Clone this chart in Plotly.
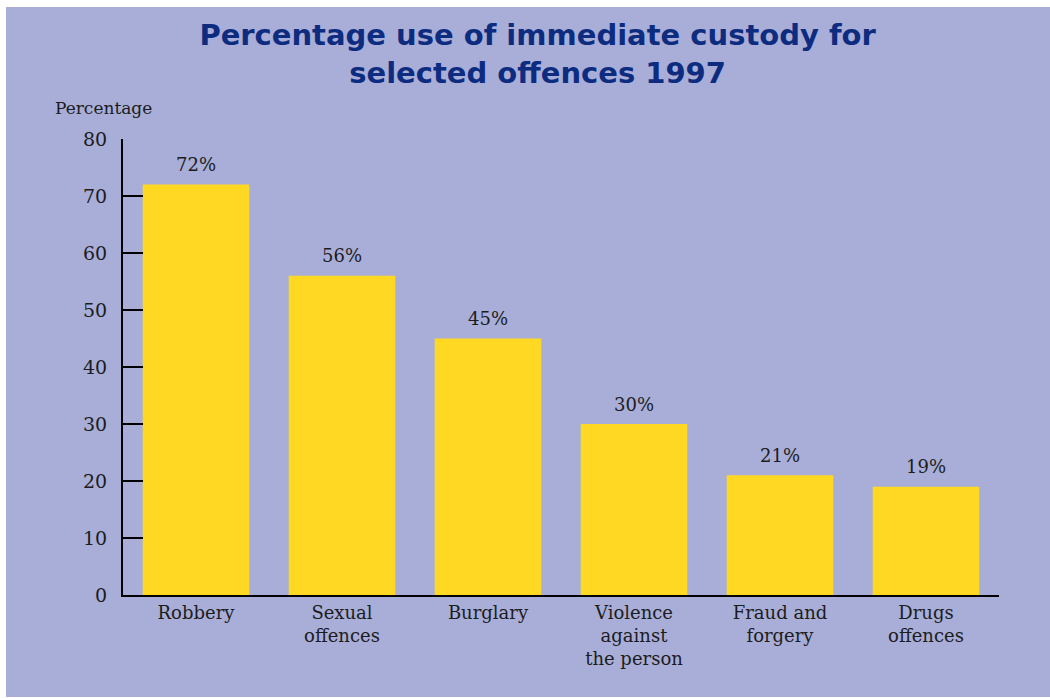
import plotly.graph_objects as go

categories = ["Robbery", "Sexual<br>offences", "Burglary", "Violence<br>against<br>the person",
              "Fraud and<br>forgery", "Drugs<br>offences"]
values = [72, 56, 45, 30, 21, 19]
value_labels = ["72%", "56%", "45%", "30%", "21%", "19%"]
y_ticks = [0, 10, 20, 30, 40, 50, 60, 70, 80]

BG = "#A8AED8"
BAR = "#FFD823"
TXT = "#1c1c1c"
SERIF = "DejaVu Serif, Liberation Serif, serif"

fig = go.Figure()
fig.add_trace(go.Bar(
    x=categories, y=values,
    marker=dict(color=BAR, line=dict(width=0)),
    hoverinfo="skip",
))

annotations = [dict(
    x=c, y=v, text=t, xref="x", yref="y",
    xanchor="center", yanchor="middle", yshift=20, showarrow=False,
    font=dict(family=SERIF, size=18, color=TXT),
) for c, v, t in zip(categories, values, value_labels)]

annotations.append(dict(
    text="Percentage", xref="paper", yref="paper",
    x=(53 - 123) / 876, y=(595 - 108) / 456,
    xanchor="left", yanchor="middle", showarrow=False,
    font=dict(family=SERIF, size=17, color=TXT),
))

fig.update_layout(
    width=1050, height=698,
    margin=dict(l=123, r=51, t=139, b=103),
    paper_bgcolor="white",
    plot_bgcolor="rgba(0,0,0,0)",
    bargap=0.27,
    showlegend=False,
    title=dict(
        text="Percentage use of immediate custody for<br>selected offences 1997",
        x=0.512, xanchor="center", y=0.935, yanchor="middle",
        font=dict(family="DejaVu Sans, Liberation Sans, sans-serif", size=29, color="#0D2C80", weight="bold"),
    ),
    xaxis=dict(
        showline=True, linecolor="black", linewidth=2,
        ticks="", showgrid=False, zeroline=False,
        tickfont=dict(family=SERIF, size=18, color=TXT),
        range=[-0.5, 5.5],
    ),
    yaxis=dict(
        range=[0, 80], tickvals=y_ticks,
        showline=True, linecolor="black", linewidth=2,
        ticks="inside", ticklen=20, tickwidth=2, tickcolor="black",
        showgrid=False, zeroline=False,
        tickfont=dict(family=SERIF, size=19, color=TXT),
        ticklabelstandoff=10,
    ),
    shapes=[dict(
        type="rect", xref="paper", yref="paper",
        x0=(6 - 123) / 876, x1=(1050 - 123) / 876,
        y0=(595 - 697) / 456, y1=(595 - 7) / 456,
        fillcolor=BG, line=dict(width=0), layer="below",
    )],
    annotations=annotations,
)

fig.write_html("out.html")
